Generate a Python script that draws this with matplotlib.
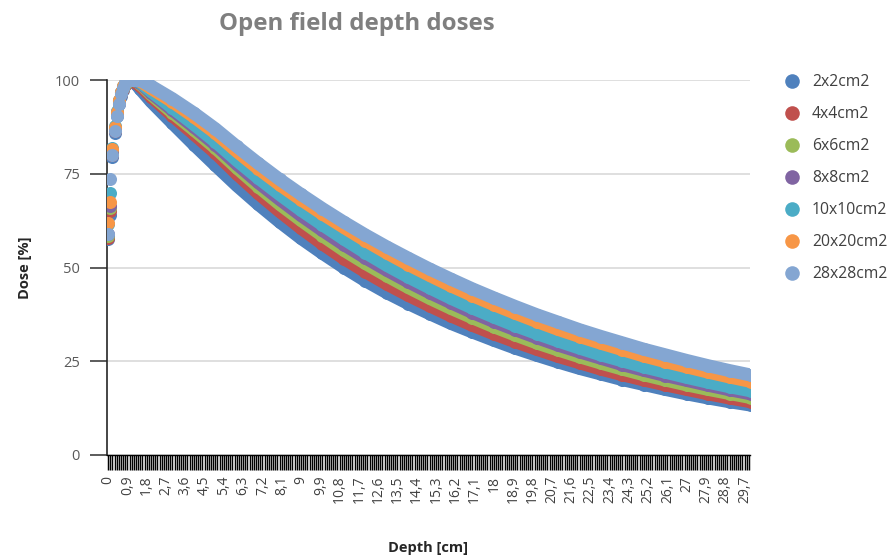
import numpy as np
import matplotlib
matplotlib.use("Agg")
import matplotlib.pyplot as plt
from matplotlib.lines import Line2D

# ---------------- data ----------------
depth_buildup = [0.0, 0.1, 0.2, 0.3, 0.4, 0.5, 0.6, 0.7, 0.8, 0.9,
                 1.0, 1.1, 1.2, 1.3, 1.4, 1.5]
depth_falloff = [2, 3, 4, 5, 6, 7, 8, 9, 10, 11, 12, 13, 14, 15, 16, 17, 18,
                 19, 20, 21, 22, 23, 24, 25, 26, 27, 28, 29, 30]
depth = depth_buildup + depth_falloff

series_names = ["2x2cm2", "4x4cm2", "6x6cm2", "8x8cm2", "10x10cm2",
                "20x20cm2", "28x28cm2"]

dose_2x2 = [57.5, 64.0, 79.5, 86.0, 90.5, 93.5, 95.8, 97.4, 98.6, 99.7,
            100.0, 99.8, 99.4, 98.9, 98.3, 97.6,
            94.3, 88.5, 82.8, 77.3, 71.9, 66.9, 62.2, 57.8, 53.8, 50.0, 46.5,
            43.3, 40.4, 37.7, 35.1, 32.8, 30.6, 28.5, 26.6, 24.8, 23.1, 21.6,
            20.1, 18.8, 17.5, 16.3, 15.2, 14.2, 13.3]
dose_4x4 = [58.0, 65.0, 80.0, 86.5, 91.0, 94.0, 96.2, 97.7, 98.8, 99.5,
            100.0, 99.9, 99.7, 99.3, 98.9, 98.4,
            95.6, 90.5, 85.6, 80.6, 75.0, 69.8, 65.0, 60.5, 56.3, 52.4, 48.9,
            45.6, 42.6, 39.8, 37.1, 34.6, 32.3, 30.2, 28.2, 26.3, 24.6, 22.9,
            21.4, 20.0, 18.7, 17.5, 16.3, 15.2, 14.2]
dose_6x6 = [58.5, 66.0, 80.5, 87.0, 91.3, 94.3, 96.5, 98.0, 99.0, 99.6,
            99.9, 100.0, 100.0, 99.8, 99.4, 99.0,
            96.2, 91.3, 86.7, 81.9, 76.6, 71.6, 66.9, 62.6, 58.5, 54.6, 51.1,
            47.8, 44.7, 41.8, 39.1, 36.6, 34.2, 32.0, 29.9, 28.0, 26.2, 24.5,
            22.9, 21.4, 20.0, 18.7, 17.5, 16.4, 15.3]
dose_8x8 = [59.0, 66.5, 81.0, 87.2, 91.5, 94.5, 96.7, 98.1, 99.1, 99.7,
            99.9, 100.0, 100.0, 99.9, 99.6, 99.2,
            96.6, 92.0, 87.5, 82.8, 77.6, 72.7, 68.2, 63.9, 59.9, 56.1, 52.6,
            49.3, 46.2, 43.3, 40.6, 38.0, 35.6, 33.4, 31.3, 29.3, 27.5, 25.8,
            24.1, 22.6, 21.2, 19.9, 18.6, 17.4, 16.3]
dose_10x10 = [61.5, 70.0, 82.0, 87.8, 91.8, 94.8, 96.9, 98.3, 99.2, 99.7,
              100.0, 100.0, 100.0, 99.9, 99.7, 99.4,
              97.0, 92.6, 88.2, 83.6, 78.6, 73.9, 69.5, 65.3, 61.4, 57.6, 54.0,
              50.6, 47.5, 44.6, 41.8, 39.2, 36.8, 34.5, 32.4, 30.4, 28.5, 26.7,
              25.1, 23.5, 22.1, 20.7, 19.4, 18.2, 17.1]
dose_20x20 = [62.0, 67.5, 81.5, 87.5, 91.6, 94.6, 96.8, 98.3, 99.3, 99.8,
              100.0, 100.0, 100.0, 100.0, 99.9, 99.7,
              97.8, 94.2, 90.2, 85.9, 81.0, 76.4, 72.1, 68.1, 64.3, 60.7, 57.2,
              53.9, 50.8, 47.9, 45.1, 42.5, 40.1, 37.8, 35.6, 33.5, 31.6, 29.8,
              28.1, 26.4, 24.9, 23.5, 22.1, 20.8, 19.6]
dose_28x28 = [59.0, 73.5, 80.0, 86.5, 90.5, 93.7, 96.2, 98.0, 99.2, 99.8,
              100.0, 100.0, 100.0, 100.0, 100.0, 99.9,
              98.4, 95.0, 91.2, 87.0, 82.3, 77.8, 73.5, 69.5, 65.7, 62.1, 58.7,
              55.5, 52.5, 49.6, 46.9, 44.3, 41.9, 39.6, 37.4, 35.4, 33.4, 31.6,
              29.9, 28.2, 26.7, 25.2, 23.8, 22.5, 21.3]

all_doses = [dose_2x2, dose_4x4, dose_6x6, dose_8x8, dose_10x10,
             dose_20x20, dose_28x28]

x_tick_labels = ["0", "0,9", "1,8", "2,7", "3,6", "4,5", "5,4", "6,3", "7,2",
                 "8,1", "9", "9,9", "10,8", "11,7", "12,6", "13,5", "14,4",
                 "15,3", "16,2", "17,1", "18", "18,9", "19,8", "20,7", "21,6",
                 "22,5", "23,4", "24,3", "25,2", "26,1", "27", "27,9", "28,8",
                 "29,7"]
y_ticks = [0, 25, 50, 75, 100]

colors = ["#4F81BD", "#C0504D", "#9BBB59", "#8064A2", "#4BACC6",
          "#F79646", "#84A6D2"]

# ---------------- style ----------------
plt.rcParams['font.family'] = ['Open Sans', 'DejaVu Sans']
W, H = 888, 558
fig = plt.figure(figsize=(W / 100, H / 100), dpi=100)
ax = fig.add_axes([107 / W, 1 - 455 / H, (750 - 107) / W, (455 - 80) / H])

marker_d = 9.4  # points
d_arr = np.array(depth, dtype=float)
for i, (name, vals) in enumerate(zip(series_names, all_doses)):
    v = np.array(vals, dtype=float)
    sel = d_arr >= 1.0
    ax.plot(d_arr[sel], v[sel], color=colors[i], lw=marker_d,
            solid_capstyle='round', solid_joinstyle='round', zorder=3 + i)
    ax.plot(d_arr, v, linestyle='none', marker='o', markersize=marker_d,
            markerfacecolor=colors[i], markeredgewidth=0, zorder=3 + i)

ax.set_xlim(-0.05, 29.95)
ax.set_ylim(0, 100)

# category ticks every 0.1 cm, labels every 0.9 cm
n_cat = 300
tick_pos = np.round(np.arange(n_cat) * 0.1, 1)
labels = [""] * n_cat
for k, lab in enumerate(x_tick_labels):
    labels[k * 9] = lab
ax.set_xticks(tick_pos)
ax.set_xticklabels(labels, rotation=90, fontsize=10, color="#404040",
                   ha='center', va='top')
ax.tick_params(axis='x', length=11, width=1.05, color='black', pad=4)

ax.set_yticks(y_ticks)
ax.set_yticklabels([str(t) for t in y_ticks], fontsize=10.5, color="#595959")
ax.tick_params(axis='y', length=12.5, width=1.2, color='#404040', pad=7)

ax.grid(axis='y', color='#D9D9D9', linewidth=1.2, zorder=0)
ax.set_axisbelow(True)
for s in ['top', 'right']:
    ax.spines[s].set_visible(False)
ax.spines['left'].set_color('#262626')
ax.spines['left'].set_linewidth(1.2)
ax.spines['bottom'].set_color('#000000')
ax.spines['bottom'].set_linewidth(1.0)

fig.text(357 / W, 1 - 24 / H, "Open field depth doses", ha='center',
         va='center', fontsize=17.3, fontweight='bold', color='#7F7F7F')
fig.text(25 / W, 1 - 268 / H, "Dose [%]", ha='center', va='center',
         rotation=90, fontsize=10.5, fontweight='bold', color='#262626')
fig.text(428 / W, 1 - 548 / H, "Depth [cm]", ha='center', va='center',
         fontsize=10.5, fontweight='bold', color='#262626')

handles = [Line2D([], [], linestyle='none', marker='o', markersize=10.5,
                  markerfacecolor=c, markeredgewidth=0) for c in colors]
fig.legend(handles, series_names, loc='upper left',
           bbox_to_anchor=(784 / W, 1 - 74 / H), frameon=False,
           fontsize=11.3, labelcolor='#404040', handlelength=1.0,
           handletextpad=0.77, labelspacing=1.02, borderaxespad=0,
           borderpad=0)

fig.savefig("out.png", dpi=100)
